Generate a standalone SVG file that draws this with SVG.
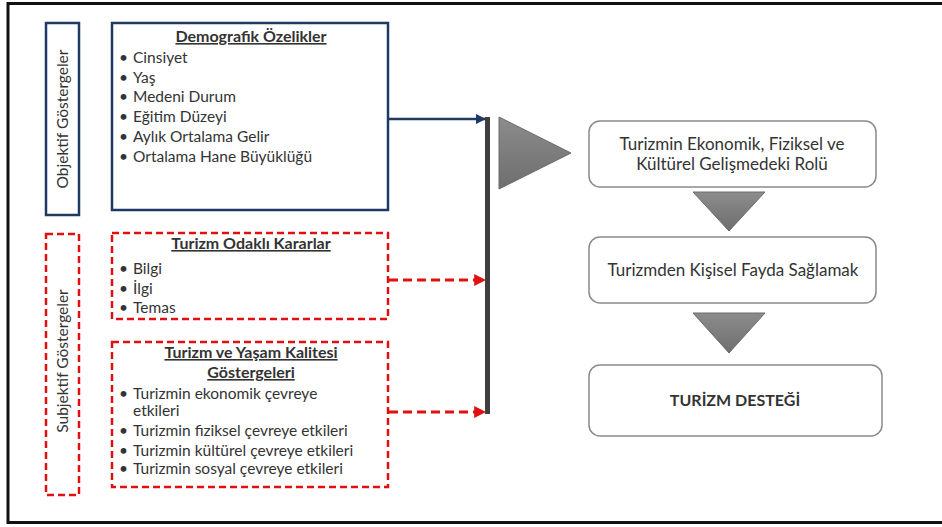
<svg xmlns="http://www.w3.org/2000/svg" width="942" height="527" viewBox="0 0 942 527">
<style>
.t{font-family:Lato,"Open Sans","Liberation Sans",sans-serif;font-size:15.5px;fill:#333}
.h{font-weight:bold;text-decoration:underline;text-anchor:middle;font-size:16px}
.c{text-anchor:middle}
.v{font-size:15.5px}
.r{font-size:17px}
.nav{fill:#fff;stroke:#1f3864;stroke-width:2.5}
.red{fill:#fff;stroke:#e01010;stroke-width:2.5;stroke-dasharray:7 4}
.rb{fill:#fff;stroke:#8a8a8a;stroke-width:1.5}
.tri{fill:url(#g);stroke:#6a6a6a;stroke-width:1}
</style>
<defs>
<linearGradient id="g" x1="0" y1="0" x2="0" y2="1">
<stop offset="0" stop-color="#8c8c8c"/>
<stop offset="1" stop-color="#6e6e6e"/>
</linearGradient>
<marker id="ab" viewBox="0 0 10 10" refX="9" refY="5" markerWidth="4" markerHeight="4" orient="auto" markerUnits="strokeWidth"><path d="M0,0L10,5L0,10z" fill="#1f3864"/></marker>
<marker id="ar" viewBox="0 0 10 10" refX="9" refY="5" markerWidth="4" markerHeight="4" orient="auto" markerUnits="strokeWidth"><path d="M0,0L10,5L0,10z" fill="#e01010"/></marker>
</defs>
<rect x="0" y="0" width="942" height="527" fill="#fff"/>
<rect x="8" y="3.5" width="940" height="519" fill="none" stroke="#111" stroke-width="3"/>

<g id="objektif">
<rect x="46" y="23" width="33" height="192" class="nav"/>
<text class="t c v" transform="translate(68,119) rotate(-90)">Objektif Göstergeler</text>
</g>
<g id="subjektif">
<rect x="46" y="234" width="33" height="261" class="red"/>
<text class="t c v" transform="translate(68,361) rotate(-90)">Subjektif Göstergeler</text>
</g>

<g id="demografik">
<rect x="112" y="23" width="276" height="187" class="nav"/>
<text class="t h" x="251" y="42">Demografik Özelikler</text>
<g class="t">
<text x="119" y="63">•</text><text x="133" y="63">Cinsiyet</text>
<text x="119" y="83">•</text><text x="133" y="83">Yaş</text>
<text x="119" y="102">•</text><text x="133" y="102">Medeni Durum</text>
<text x="119" y="122">•</text><text x="133" y="122">Eğitim Düzeyi</text>
<text x="119" y="142">•</text><text x="133" y="142">Aylık Ortalama Gelir</text>
<text x="119" y="162">•</text><text x="133" y="162">Ortalama Hane Büyüklüğü</text>
</g>
</g>

<g id="kararlar">
<rect x="112" y="233" width="276" height="86" class="red"/>
<text class="t h" x="251" y="249">Turizm Odaklı Kararlar</text>
<g class="t">
<text x="119" y="274">•</text><text x="133" y="274">Bilgi</text>
<text x="119" y="294">•</text><text x="133" y="294">İlgi</text>
<text x="119" y="313">•</text><text x="133" y="313">Temas</text>
</g>
</g>

<g id="yasam">
<rect x="112" y="342" width="276" height="145" class="red"/>
<text class="t h" x="251" y="358">Turizm ve Yaşam Kalitesi</text>
<text class="t h" x="251" y="378">Göstergeleri</text>
<g class="t">
<text x="119" y="399">•</text><text x="133" y="399">Turizmin ekonomik çevreye</text>
<text x="133" y="416">etkileri</text>
<text x="119" y="436">•</text><text x="133" y="436">Turizmin fiziksel çevreye etkileri</text>
<text x="119" y="456">•</text><text x="133" y="456">Turizmin kültürel çevreye etkileri</text>
<text x="119" y="474">•</text><text x="133" y="474">Turizmin sosyal çevreye etkileri</text>
</g>
</g>

<g id="connectors">
<line x1="389" y1="119" x2="485" y2="119" stroke="#1f3864" stroke-width="2.5" marker-end="url(#ab)"/>
<line x1="389" y1="280" x2="485" y2="280" stroke="#e01010" stroke-width="3" stroke-dasharray="9 5" marker-end="url(#ar)"/>
<line x1="389" y1="412" x2="485" y2="412" stroke="#e01010" stroke-width="3" stroke-dasharray="9 5" marker-end="url(#ar)"/>
<rect x="485" y="117" width="5" height="297" fill="#3f3f3f"/>
<polygon class="tri" points="499,117 571,153 499,189"/>
<polygon class="tri" points="693,192 765,192 729,231"/>
<polygon class="tri" points="693,313 765,313 729,353"/>
</g>

<g id="rol">
<rect x="589" y="121" width="287" height="66" rx="11" class="rb"/>
<text class="t c r" x="732" y="150">Turizmin Ekonomik, Fiziksel ve</text>
<text class="t c r" x="732" y="170">Kültürel Gelişmedeki Rolü</text>
</g>
<g id="fayda">
<rect x="589" y="237" width="287" height="66" rx="11" class="rb"/>
<text class="t c r" x="733" y="276">Turizmden Kişisel Fayda Sağlamak</text>
</g>
<g id="destek">
<rect x="589" y="365" width="293" height="71" rx="11" class="rb"/>
<text class="t c" x="735" y="406" style="font-size:16px;font-weight:bold">TURİZM DESTEĞİ</text>
</g>
</svg>
